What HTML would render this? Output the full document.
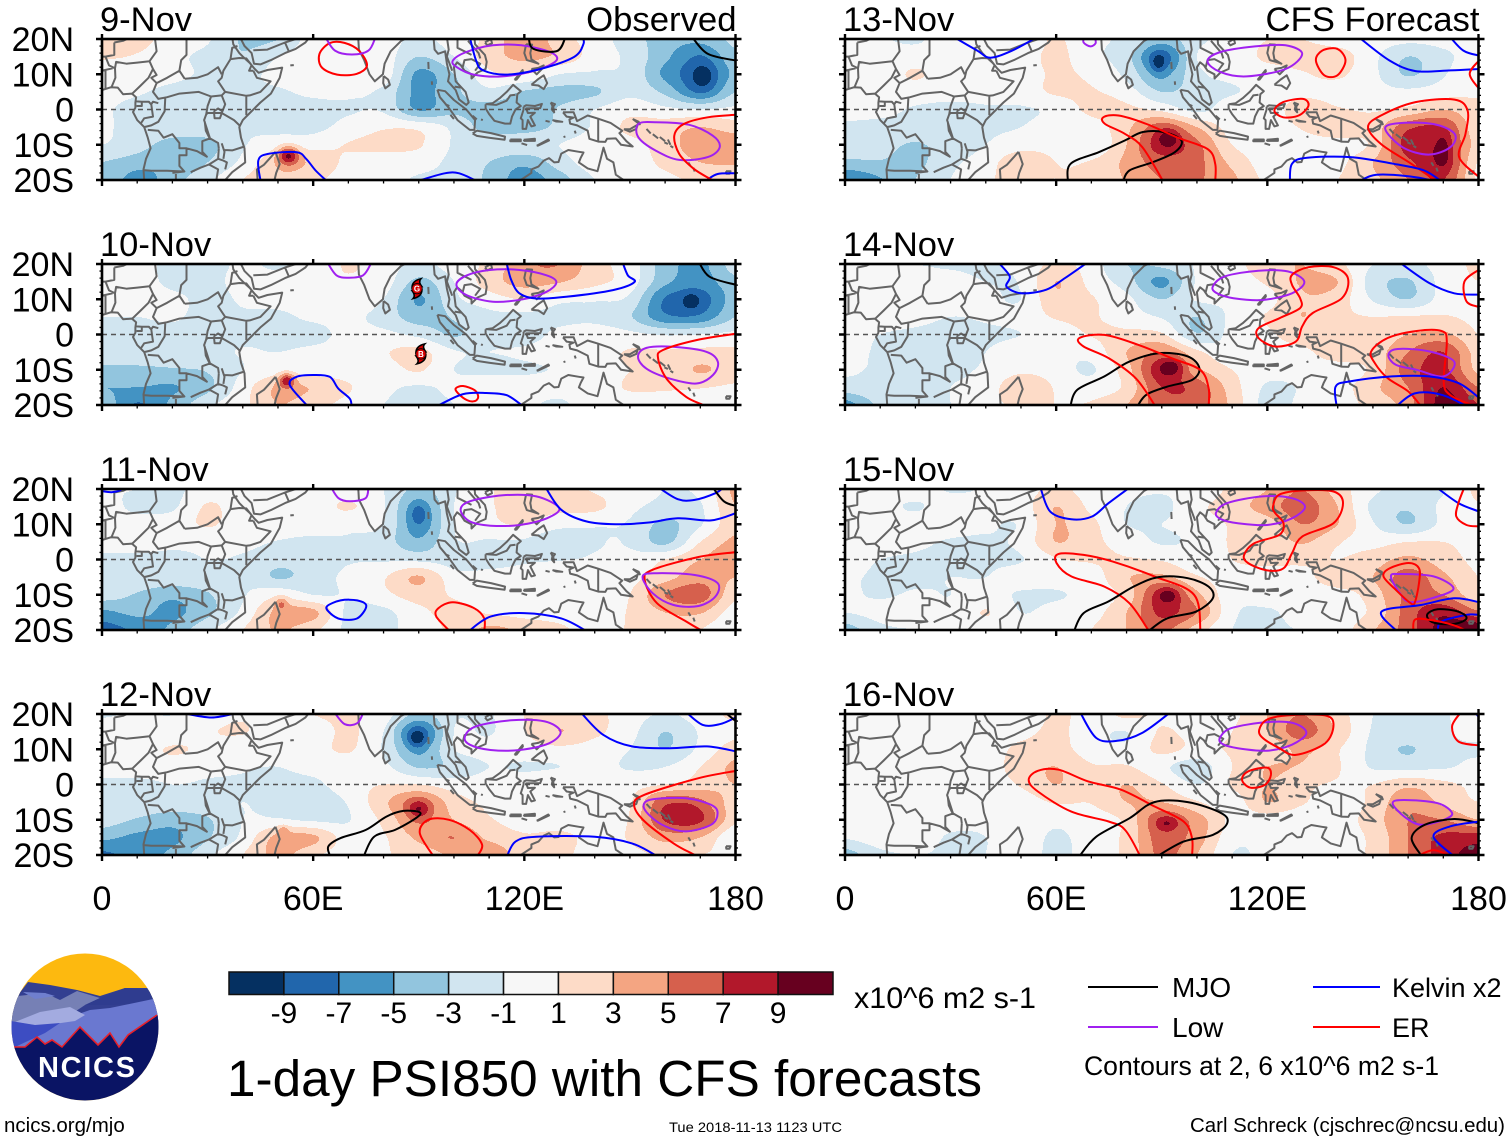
<!DOCTYPE html>
<html lang="en">
<head>
<meta charset="utf-8">
<title>1-day PSI850 with CFS forecasts</title>
<style>
html,body{margin:0;padding:0;background:#fff;width:1510px;height:1142px;overflow:hidden}
svg{display:block;font-family:"Liberation Sans",Arial,sans-serif}
text{fill:#000}
</style>
</head>
<body>
<svg id="chart" xmlns="http://www.w3.org/2000/svg" width="1510" height="1142" viewBox="0 0 1510 1142">
  <g id="panels"></g>
  <g id="colorbar"></g>

  <text x="854" y="1008" font-size="30" textLength="182" lengthAdjust="spacingAndGlyphs">x10^6 m2 s-1</text>
  <text x="227" y="1096" font-size="51" textLength="755" lengthAdjust="spacingAndGlyphs">1-day PSI850 with CFS forecasts</text>

  <g>
    <line x1="1088" y1="987" x2="1158" y2="987" stroke="#000" stroke-width="2"/>
    <text x="1172" y="997" font-size="28">MJO</text>
    <line x1="1313" y1="987" x2="1380" y2="987" stroke="#0000ff" stroke-width="2"/>
    <text x="1392" y="997" font-size="27">Kelvin x2</text>
    <line x1="1088" y1="1027" x2="1158" y2="1027" stroke="#a020f0" stroke-width="2"/>
    <text x="1172" y="1037" font-size="28">Low</text>
    <line x1="1313" y1="1027" x2="1380" y2="1027" stroke="#ff0000" stroke-width="2"/>
    <text x="1392" y="1037" font-size="27">ER</text>
    <text x="1084" y="1075" font-size="27" textLength="355" lengthAdjust="spacingAndGlyphs">Contours at 2, 6 x10^6 m2 s-1</text>
  </g>

  <text x="4" y="1132" font-size="20.5">ncics.org/mjo</text>
  <text x="669" y="1132" font-size="14" textLength="173" lengthAdjust="spacingAndGlyphs">Tue 2018-11-13 1123 UTC</text>
  <text x="1190" y="1132" font-size="20.5" textLength="315" lengthAdjust="spacingAndGlyphs">Carl Schreck (cjschrec@ncsu.edu)</text>

  <g>
    <defs><clipPath id="logo-clip"><circle cx="85" cy="1027" r="73.5"/></clipPath></defs>
    <g clip-path="url(#logo-clip)">
      <rect x="10" y="950" width="150" height="160" fill="#fdb90f"/>
      <polygon points="28,982 50,985 77,990 100,996 125,988 148,988 165,1010 165,1030 5,1030 5,1012" fill="#333f91"/>
      <polygon points="18,996 45,993 60,1000 77,991 100,998 85,1005 70,1015 5,1032 5,1005" fill="#7680b5"/>
      <polygon points="23,992 45,993 55,996 35,999" fill="#6f7fce"/>
      <polygon points="85,1005 100,998 125,988 150,990 160,1003 110,1005" fill="#2f3c8f"/>
      <polygon points="5,1025 70,1017 90,1010 110,1008 158,998 165,1010 165,1060 5,1060" fill="#6a78d0"/>
      <polygon points="15,1022 40,1012 70,1007 85,1015 75,1021 40,1026" fill="#a3abe0"/>
      <polygon points="5,1020 35,1025 60,1023 45,1033 15,1047 5,1047" fill="#3d4dc2"/>
      <polygon points="14,1047 25,1047 37,1037 45,1044 52,1040 62,1047 80,1027 98,1045 110,1033 119,1047 128,1035 157,1015 165,1010 165,1110 5,1110 5,1047" fill="#0a1464"/>
      <polyline points="14,1047 25,1047 37,1037 45,1044 52,1040 62,1047 80,1027 98,1045 110,1033 119,1047 128,1035 157,1015" fill="none" stroke="#e8202a" stroke-width="1.6"/>
    </g>
    <text x="38" y="1077" font-size="29" font-weight="bold" style="fill:#fff" textLength="97" lengthAdjust="spacing">NCICS</text>
  </g>
</svg>

<script>
/* ---------- categories and scale ---------- */
const panelTitles = ['9-Nov','10-Nov','11-Nov','12-Nov','13-Nov','14-Nov','15-Nov','16-Nov'];
const latTicks = [[20,'20N'],[10,'10N'],[0,'0'],[-10,'10S'],[-20,'20S']];
const lonTicks = [[0,'0'],[60,'60E'],[120,'120E'],[180,'180']];
const colorBands = ['#053061','#2166ac','#4393c3','#92c5de','#d1e5f0','#f7f7f7','#fddbc7','#f4a582','#d6604d','#b2182b','#67001f'];
const bandEdges = [-9,-7,-5,-3,-1,1,3,5,7,9];

/* ---------- PSI850 anomaly (x10^6) read at 10deg lon / 5deg lat: rows 20N..20S, columns 0..180E ---------- */
const psi9Nov = [
[2,1.8,0,-.8,-3.2,-3,0,.5,0,-1.5,0,1.5,4.5,2,0,-2,-4,-4.5,-2.5],
[1.2,.8,-.5,-1.5,-2.8,-1,0,0,0,-3,-1,2,3.5,2.5,0,-1.5,-4.5,-7,-3.5],
[0,0,-.5,-1.3,-1.5,-.5,0,0,.2,-5.5,-3,.5,1,-1,-1.3,-1.5,-5.5,-8,-4.5],
[-.5,-.8,-1.5,-1.8,-1.5,-1.2,-.7,-.7,-1.5,-5.5,-3.5,-1.5,-3.2,-3.6,-3.3,-1.5,-3.5,-7,-3],
[-.8,-1.5,-1.8,-1.8,-1.5,-1.5,-1.5,-1.2,-1.3,-5.2,-3.5,-3.8,-4,-2.8,-1,.3,-.5,-1,-.5],
[-.8,-1.5,-1.8,-1.8,-1.2,-1.5,-1.5,-.3,.8,.5,-1.5,-3.8,-3.8,-2.5,-.7,1.5,2,3,2],
[-1,-2.2,-3.8,-3.6,-1.2,0,.2,1.1,1.5,1.2,-1.2,-1.5,-1.5,-1,0,.3,2,4.2,4.5],
[-3,-4,-4.5,-3,-.5,2.5,2.5,.5,0,-.3,-1.5,-3,-4.5,-2,0,0,1.5,3,3.2],
[-3,-6,-3.8,-1.5,1,2.5,1.5,0,-.5,-1.2,-1.5,-3.5,-6,-4,-1,0,.5,1.5,2]];
const psi10Nov = [
[.3,-.3,-1.5,-1.5,-.8,-1.2,-.5,1.2,0,-1.5,0,1.5,4.5,5,1.8,0,-4,-5.5,-2],
[0,0,-1.5,-1.5,-.5,-.5,.5,.8,0,-3.5,-1,2,3.8,3.2,1.5,0,-4.5,-6,-3.5],
[0,0,-.5,-1.5,-.8,-.5,0,.5,-1,-5.2,-1.5,0,1,-.5,-.8,-1.5,-7.2,-8,-4],
[-1,-1,-.8,-1.5,-1.2,-1.3,-.7,-.5,-1.8,-4,-2.8,-1.5,-1.5,-1.5,-1.5,-2.8,-6.5,-6.5,-3],
[-2,-1.5,-1.5,-1.5,-1.3,-1.3,-1.5,-.5,-.5,-1.5,-3.2,-1.5,-1.8,-.5,0,-.5,-1.2,-1,-.5],
[-1.8,-1.5,-1.5,-1.5,-.9,-1,-.6,-.2,.8,1.6,-.8,-1,-.7,0,0,1.2,1.2,1.5,1.5],
[-3.5,-3.5,-3.2,-2.8,-1,0,0,0,0,1.2,-1,-1.5,-1.3,-.8,0,1,1.5,3.2,2],
[-5,-5,-5.2,-3.5,0,3.2,2.8,1.2,-.5,-1.2,-.5,.5,0,0,0,1.2,1.2,1.1,.7],
[-3.5,-7.2,-4.5,-1.5,.5,3,1.8,.3,-1,-1.5,-1,.8,-.3,-1.5,.8,0,0,0,0]];
const psi11Nov = [
[-1,-1,-1.5,0,0,-.5,0,0,-1,-3.5,-1.2,.8,1.8,1.8,.8,0,-1,-.5,3.5],
[0,-1.5,-1.3,1.2,0,0,0,1.2,-.8,-5.5,-1,.8,1.6,1.5,1.5,-.5,-1.5,-1.2,3],
[0,0,0,1.2,0,0,0,-.5,-1,-6,-1,.5,1.1,-.3,-.8,-1.2,-3.5,-1.2,2.5],
[0,0,-.5,-.5,-.5,-1.1,-1.5,-1.2,-2,-4.5,-1.2,-1.2,-1.3,-2.8,-1.2,-1.2,-3.5,1,3.5],
[-1.5,-1.5,-1.5,-1,-1.2,-2.2,-2,-1.2,-1.2,-1.5,-1.8,-1.5,-1.2,-1.1,-.8,-.5,1,3,4.5],
[-1.5,-1.5,-1.5,-1.5,-1.2,-3.2,-2,-.5,.8,3.2,-.2,-.5,-.3,0,-.5,.3,2.2,4.2,3],
[-2,-3.2,-4.5,-3.2,-1.2,.5,-1,-.8,.5,1.8,.8,0,0,0,0,1,5,6,1.5],
[-5.5,-4.5,-5.5,-3.5,-.5,3.5,3.5,-1.5,-1.5,.5,1.5,.8,.3,0,-.3,1.2,3,3.2,0],
[-8,-6.5,-4.5,-1.5,1,3.2,1.5,-1.5,-1.5,0,1.5,3.5,2.5,1.5,0,1.2,2,1,-1]];
const psi12Nov = [
[-1.2,-.8,-1,0,.8,-.5,1,1.2,0,-3.5,-1.2,-1.2,1,1.6,1.5,0,-1.2,0,1.5],
[0,-.5,-.5,.8,1.1,0,0,1.3,-1,-7.5,-1,-1.2,.9,3,1.5,-.3,-3,-.8,.5],
[0,0,1.2,.5,0,0,.3,1.2,-1.2,-5.5,-1,-.3,0,.5,0,-1,-3,-.5,2],
[0,0,0,-.5,-.8,-1,-.3,0,-.5,-3.2,-2.5,-1,-1.2,-1,-.3,-1.2,-1,1,3.5],
[-1.5,-1.5,-1,-1.2,-1.2,-1.5,-1.5,.2,1,1,0,0,0,.8,.3,.3,1,2,3],
[-1.5,-1.5,-1.5,-1.5,-1,-1.5,-2.2,-.8,2.5,5.5,2,.6,.2,0,0,.8,6.5,5.5,2],
[-2,-3.2,-4.2,-3.2,-1,-.8,-1.3,-1.1,1.5,5,3,1.2,.3,0,0,1.2,7.2,7.2,1.5],
[-4.5,-5.5,-5.5,-3.2,-.5,3.6,3.4,0,.8,3.5,5,2.5,1.2,1.5,.5,1.2,3.8,3,-.8],
[-7.5,-6,-4.5,-1.5,1,3.6,1.5,0,.8,1.8,3.5,5,1.5,1.6,0,.5,1.2,1,.5]];
const psi13Nov = [
[-.3,-.8,-1.3,0,-.5,-.5,1.2,-.5,-1.5,-4,-1.5,-.3,1,1,0,0,-.5,-.3,0],
[0,0,0,0,0,0,1.5,-.5,-2.2,-8,-1,-.5,1.5,2,2,-.5,-3,-1.5,0],
[0,0,1.2,0,0,0,1.3,.5,-1.5,-5.5,-1.5,-.5,-.2,.8,1.3,-.5,-3.2,-1.2,1],
[0,0,0,-.3,-.3,0,1.3,1.2,0,-3,-2,-1.2,-.2,.5,.3,-.2,-.5,.2,.8],
[-.5,-.5,-1.2,-1.5,-1.2,-1.2,-.5,1.5,1.5,.5,-1.5,.3,0,2,1.2,.8,1.5,3,1.5],
[-1.2,-1.5,-1.5,-1.5,-1.2,-1,0,0,2.5,6,3,.2,0,1.2,2.8,2,6.5,7,1.5],
[-1.5,-2.2,-3.2,-2,-1,0,.3,-.8,3,8,5.5,1,0,0,0,1.5,8,8,2],
[-3.5,-3.2,-3.5,-1.5,0,2.5,1,1.2,3.5,6,5.5,2.5,0,0,.5,3,6.5,8.5,.8],
[-7,-5.2,-3,-1,.8,1.2,1,1.5,3.2,5,5.2,3.5,.5,.5,1,2.5,5,7,.5]];
const psi14Nov = [
[-.3,-1,-1,-1.2,-1.2,-.5,1.5,0,-3,-2.5,-.8,.3,2.2,3,1.5,-1,-1.5,-.2,1.5],
[0,0,-.3,-.5,-1,-.8,3,.3,-2,-5.5,-.8,0,1.3,3.2,3,-2,-3.2,-.3,1],
[0,.8,0,-.5,-.5,-1,2.5,1.2,-.5,-3,-.8,-.5,.3,2.8,2,-1.2,-3,-.2,.3],
[0,0,-.5,-1,-.8,-.3,1.2,1.2,0,-1.2,-3,-.5,1.2,3,1.5,1,1.2,1.2,.5],
[-.2,-1,-1.3,-1.5,-1.3,-1,0,1.1,1.5,1.3,-2.8,-.3,.6,2.2,2,1.5,3,3.5,1],
[-.5,-1.2,-1.5,-1.5,-1,0,-.5,-.2,3,5,1.5,-.5,0,.5,2.2,2,5,7,2],
[-.8,-1.2,-1.5,-1.2,-.8,.5,0,-1.2,2.2,8,3.5,1,-.2,0,0,1.5,6,7.5,2.5],
[-1.8,-1.3,-1.2,-1,-.3,2.8,.8,0,1.5,7,6.2,2,-1.3,-.8,0,2.5,5,9,5],
[-6,-2.5,-1.5,-1,.5,1.2,1,1.2,3,6,6,2.5,-1.8,-.5,0,1.8,4,10,7]];
const psi15Nov = [
[0,-.5,0,-1.2,-.8,0,1.5,0,-.5,-.8,-.5,1.5,3,5,2,-.5,-2,-1.2,1.5],
[0,-.3,-1.2,0,-.5,0,3,.5,-1,-1.5,.5,2,4,6,3,-1.5,-2.8,-.5,.8],
[0,0,0,0,-.7,-.8,3,1.5,-1,-1,0,1.2,2,5,3,-.8,-3,-.5,.3],
[0,0,-.5,-1.2,-1.2,-.5,3,1.5,.2,-1.2,-.5,1.2,1.5,3.2,1.2,.3,1,1,.3],
[-.3,-1,-1.3,-1.5,-1.2,-1.1,.8,1.2,1.2,.8,-.3,1,1.5,1.5,1,2,3.5,2,.5],
[-.8,-1.2,-1.3,-1,-1,-.2,0,0,2.8,3.5,1.2,.3,0,.3,2.5,3,6,3.5,1],
[-.7,-1.2,-.8,-1,-.3,-1.2,-1.2,-.2,1.8,7.5,3.5,-.2,0,0,0,2,5.5,5,1.5],
[-1,-.3,0,-.8,1.1,-1,-.3,.2,3,7.5,5,-.5,-1.3,0,0,1.5,6,8.5,5.5],
[-4,-1.5,-1,-.8,0,0,-.5,1,3,5.5,2,-1,-1.5,-.8,0,2.8,6,10,11]];
const psi16Nov = [
[0,0,0,0,0,-1,1.5,0,1.5,.5,-.5,.5,3,5,2,-1,-3,-1.2,-.5],
[0,0,0,0,0,.3,1.5,-.3,-1,1.2,.3,1,3,6,2.5,-1.2,-1.5,-1.2,-.5],
[0,0,0,0,0,1.5,1.8,0,-.5,1.5,.5,1.2,1.5,3.5,1.2,-1.5,-3.2,-1.3,-1.2],
[0,0,0,0,0,2,3,1.2,1.2,-.5,-2,1,3,2.8,1.2,-1.2,-1.5,-1.2,-.5],
[0,0,0,0,0,1.2,3,1.5,3,1.2,-1,1.2,3,1.5,.8,1,2.5,1.5,.5],
[0,0,0,0,0,0,1.2,1.1,3,3,1.2,0,3,1.2,0,1.5,4.5,2.5,1],
[0,-.8,0,-.3,-.5,0,-.5,0,1.5,6.5,4,.5,0,-.3,0,2,5,5,3],
[-.8,0,0,-1.2,-1,0,-1.3,0,1.5,6,4,-.3,-.5,0,0,1.5,5,7.5,8],
[-4,-1.5,-1,-1.2,-1,0,-1.5,0,1.5,5.5,3,-1,-.5,0,0,1.5,5,8,10]];
const psiFields = [psi9Nov,psi10Nov,psi11Nov,psi12Nov,psi13Nov,psi14Nov,psi15Nov,psi16Nov];

/* ---------- sharp local extrema too small for the grid: lon, lat, amplitude, lon radius, lat radius ---------- */
const extrema9Nov = [[53,-13,7.5,3,2.6],[171,9.5,-2.5,3.5,3.5]];
const extrema10Nov = [[52.5,-13,6.5,2.2,2],[167.5,9.5,-2.5,2.2,2.2]];
const extrema11Nov = [[51,-12.5,3,1.8,1.8],[90,13,-2.5,2.5,3]];
const extrema12Nov = [[51.5,-13,2.5,1.5,1.5],[90,-7,3.5,3,2.5],[89.5,13,-3.5,2.5,2.5],[167,-8,1,3,3]];
const extrema13Nov = [[92,-8,3,3,2.5],[89,13,-3,2,2.5],[170,-11.5,2.5,1.8,4]];
const extrema14Nov = [[93,-9,3.5,3.5,2.5]];
const extrema15Nov = [[92,-10,3,3,2.2]];
const extrema16Nov = [[91.5,-11,2.5,3,2]];
const fieldExtrema = [extrema9Nov,extrema10Nov,extrema11Nov,extrema12Nov,extrema13Nov,extrema14Nov,extrema15Nov,extrema16Nov];

/* ---------- wave-filtered contours: [series, closed?, [lon,lat]...] ---------- */
const waves9Nov = [
['er',1,[[64.8,18.9],[68.9,18.9],[73,16.7],[75.3,12.5],[72.3,10.1],[66.8,9.9],[62.4,12],[61.8,15.8]]],
['low',0,[[63.5,20.5],[66.2,16.7],[71,15.6],[75.7,16.7],[77.7,20.5]]],
['low',1,[[99.7,13.9],[103.5,16.3],[111,18.2],[119.2,18.2],[127.3,16.3],[129.1,13.9],[123.2,11.1],[113.7,9.4],[105.6,9.9],[100.8,12]]],
['kelvin',0,[[104.5,20.5],[106.3,13.9],[108.3,11.1],[115,9.9],[124.6,11.5],[134.1,14.9],[136.8,18.6],[136.5,20.5]]],
['mjo',0,[[121.2,20.5],[122.6,17.2],[129.3,16.6],[131.7,20.5]]],
['mjo',0,[[167.7,20.5],[172.1,15.8],[180,13.9],[182,13.7]]],
['kelvin',0,[[45.1,-20.5],[44.4,-14.5],[47.2,-12.6],[55.3,-12.1],[58,-14],[60.7,-17.3],[64.1,-20.5]]],
['kelvin',0,[[90.6,-20],[97.4,-18.1],[101.5,-18.1],[106.9,-20.5]]],
['kelvin',0,[[171.9,-20],[174.9,-18.3],[180,-18.1],[182,-18.1]]],
['low',1,[[152.4,-4.1],[157.2,-3.6],[166.7,-4.3],[173.5,-7.4],[175.5,-10.7],[172.1,-13.5],[164,-14.3],[157.2,-11.6],[152.4,-7.9]]],
['er',0,[[182,-1.3],[180,-1.5],[172.1,-2.2],[165.3,-4.1],[162.6,-7.4],[164,-12.6],[168.1,-16.8],[172.8,-19.7],[175,-21]]]];
const waves10Nov = [
['low',0,[[64,20.5],[66.6,16.8],[69.9,16.1],[74.2,16.8],[76.6,20.5]]],
['kelvin',0,[[58.6,-20.5],[53.4,-14.4],[55.3,-12],[60,-11.5],[64.7,-12],[67.1,-15.3],[70.4,-18.2],[70.9,-20.5]]],
['low',1,[[100.7,14.2],[103.7,16.8],[110.2,18.3],[118.7,18.3],[126.3,16.8],[129.1,14.8],[126.3,12.1],[119.6,10],[111.1,9.3],[103.5,11.2]]],
['kelvin',0,[[114.9,20.5],[116.3,15.4],[118.7,11.6],[123.4,10.2],[131.9,10.7],[145.2,12.6],[151.3,14.9],[149.4,16.8],[147.9,20.5]]],
['mjo',0,[[169.6,20.5],[172.6,16.4],[179.7,14.2],[182,14]]],
['low',1,[[152.3,-6.3],[154.7,-3.8],[162.2,-3.5],[171.7,-4.9],[175,-7.8],[173.6,-11.5],[168.9,-13.9],[161.3,-12.5],[154.7,-9.7]]],
['er',0,[[182,.3],[180,.2],[168.9,-1.6],[159.4,-4.4],[158,-6.8],[160.4,-12.5],[166,-17.7],[170.8,-20],[173,-21.5]]],
['er',1,[[100.5,-15.3],[102.6,-14.6],[105.9,-15.8],[106.9,-17.7],[105.9,-18.9],[103.7,-18.6],[101.2,-16.7]]],
['kelvin',0,[[95.8,-20],[102.6,-16.9],[109.2,-16.6],[114.9,-17.2],[119.2,-20]]]];
const waves11Nov = [
['low',0,[[65.1,20.5],[67.2,17.4],[70.4,16.5],[74.9,17.4],[75.7,20.5]]],
['kelvin',0,[[0,19.4],[2.7,19.1],[5.1,19.6],[6,20.5]]],
['low',1,[[101.9,14.1],[104.5,16.5],[113.9,18.2],[123.4,17.9],[129.9,14.6],[126.4,11.7],[118.7,9.8],[110.4,9.6],[104.5,10.8]]],
['kelvin',0,[[126,20.5],[130.5,14.1],[137.6,10.8],[145.9,10],[155.4,10.5],[163.6,11.7],[173.1,11.1],[180.2,13.2],[182,14]]],
['kelvin',0,[[158,20.5],[163.6,17.1],[168.4,16.9],[174.3,18.8],[176.7,20.5]]],
['mjo',0,[[173.5,20.5],[176.7,16.5],[180.2,15.2],[182,15]]],
['er',0,[[182,2.4],[180.2,2.1],[169.5,.7],[156.5,-2.9],[154.2,-5.8],[157.7,-12.4],[166,-17.6],[170.1,-20],[172,-21]]],
['low',1,[[153.6,-4.8],[157.7,-3.9],[168.4,-4.4],[174.9,-6.7],[174.3,-10.5],[169.5,-13.2],[162.4,-12.9],[156.5,-9.6]]],
['kelvin',1,[[63.9,-13.3],[67.8,-11.6],[72.5,-11.6],[75.1,-13.2],[72.5,-16.7],[67.8,-16.9],[64.8,-15.2]]],
['er',0,[[99,-20.5],[95,-16.2],[95.6,-13.8],[99.7,-12.1],[105.7,-13.8],[108.6,-16.7],[108.6,-20.5]]],
['kelvin',0,[[104,-20.5],[110.4,-16.2],[119.9,-15.2],[130.5,-16.7],[138,-20.5]]]];
const waves12Nov = [
['kelvin',0,[[22,20.5],[31.1,19],[39,20.5]]],
['low',0,[[66,20.5],[69,17.1],[72.5,17.4],[74.3,20.5]]],
['low',1,[[103.1,13.6],[106.3,16.5],[116.3,18.2],[125.8,17.9],[130.3,15],[127,11.7],[118.7,9.8],[110.4,9.8],[104.5,11.3]]],
['kelvin',0,[[136,20.5],[142.4,14.1],[150.6,10.8],[161.3,10.3],[171.9,10.8],[180.2,9.4],[182,9.2]]],
['kelvin',0,[[166,20.5],[170.7,16.9],[175.5,17.1],[179.6,18.8],[182,20.5]]],
['mjo',0,[[177,20.5],[180.2,17.9],[182,17]]],
['er',0,[[182,4.2],[180.2,3.9],[169.5,1.8],[154.2,-2.9],[151.2,-5.8],[154.2,-10.5],[162.4,-16.7],[167.8,-19.7],[170,-21]]],
['low',1,[[153.9,-5.8],[156.5,-4.2],[166,-3.9],[173.1,-5.8],[174.9,-8.1],[173.1,-11.4],[166,-13.3],[160.1,-11.9],[155.4,-8.6]]],
['mjo',0,[[64.9,-20.5],[64.3,-17.6],[67.8,-15.2],[74.9,-12.9],[80.8,-9.1],[85.6,-7.5],[90.3,-7.9],[89.1,-9.6],[83.2,-12.9],[77.3,-14.8],[74.3,-20.5]]],
['er',0,[[94.3,-20.5],[90.3,-13.8],[92.7,-10],[98.6,-10],[104.5,-12.9],[108,-17.1],[106.5,-20.5]]],
['kelvin',0,[[115,-20.5],[117.5,-16.2],[123.4,-14.8],[140,-14.8],[150.6,-16.7],[158,-20.5]]]];
const waves13Nov = [
['kelvin',0,[[31,20.5],[37.6,16.7],[41.3,14.7],[47.5,16.7],[54.5,20.5]]],
['low',0,[[67.9,20.5],[67.8,19],[69.7,17.9],[71.2,18.8],[71,20.5]]],
['low',1,[[103,13.7],[106.7,16.3],[116.5,17.9],[125.2,18.2],[129.9,15.8],[125.2,11.5],[114.1,9.4],[106.7,10.6]]],
['er',1,[[133.8,13.9],[135.6,16.7],[139.9,17.2],[142.2,13.9],[139.9,9.7],[136.2,9.7]]],
['kelvin',0,[[146,20.5],[154.7,13.9],[162.1,10.9],[172,11.1],[180.2,11.5],[182,11.6]]],
['kelvin',0,[[172,20.5],[175.7,16.7],[180.2,15.3],[182,15.2]]],
['er',0,[[182,15],[180.2,13.9],[177.5,10.1],[180.2,5.9],[182,5]]],
['er',1,[[122,-.3],[124.5,2.1],[130.1,3],[131.7,1.1],[128.9,-1.7],[124.5,-2.2]]],
['er',0,[[169,-21],[160.9,-15.4],[152.3,-9.8],[148.6,-5],[152.3,-1.7],[162.1,2.1],[173.2,2.8],[176.9,-.3],[176.3,-6.9],[174.5,-13.5],[180.2,-19.2],[182,-20.5]]],
['low',1,[[153.5,-5.5],[157.2,-3.9],[167.1,-4.1],[173.2,-6.9],[172,-10.7],[165.8,-12.8],[158.4,-10.7]]],
['kelvin',0,[[126.4,-20.5],[127,-15.4],[131.3,-13.7],[143.6,-13.5],[155.9,-15.4],[164.6,-17.3],[170,-20.8]]],
['kelvin',0,[[146,-20.5],[151,-18.5],[162.1,-19.2],[170,-21]]],
['mjo',0,[[63.3,-20.5],[64.1,-15.4],[72.1,-12.1],[79.5,-8.8],[84.5,-6.4],[90.6,-6.4],[95.6,-8.8],[93.7,-12.1],[87.6,-14.9],[80.8,-17.3],[79,-20.5]]],
['er',0,[[90.5,-20.5],[84.5,-10.7],[79.5,-6.9],[73.9,-4.1],[73.4,-2.2],[77.7,-1.7],[85.7,-4.1],[94.3,-7.9],[103,-11.2],[105.2,-15.4],[105.2,-20.5]]]];
const waves14Nov = [
['kelvin',0,[[43.5,20.5],[46.8,16.5],[45.9,13.6],[50.1,11.7],[57.2,12.7],[62.5,16],[69,20.5]]],
['low',1,[[104.5,13.6],[108,16.5],[117.5,18.1],[125.8,17.9],[130.5,15],[127,11.7],[118.7,9.8],[110.4,10.3],[105.7,11.7]]],
['er',1,[[127,16.9],[131.7,19.1],[138.8,19.1],[142.9,16],[141.2,10.3],[132.9,6.1],[129.9,2.3],[128.1,-2],[122.2,-3.4],[117.5,-1],[117.5,1.8],[123.4,4.6],[129.3,7.5],[129.3,10.3],[127,14.1]]],
['kelvin',0,[[157.5,20.5],[166,14.6],[173.1,11.7],[180.2,11.3],[182,11.3]]],
['er',0,[[182,19],[180.2,18.4],[176,15],[176.6,9.4],[180.2,7.8],[182,7.5]]],
['er',0,[[164,-20.8],[160.1,-16.2],[154.2,-12.4],[150.6,-8.2],[149.5,-4.8],[154.2,-1],[162.4,1],[169.5,1],[171,-2],[170.1,-13.4],[172,-17.2],[178,-20],[180,-21]]],
['low',1,[[154.4,-5.8],[157.1,-4.1],[166,-4.8],[173.1,-7.7],[170.1,-11.9],[162.4,-10],[156.5,-8.6]]],
['kelvin',0,[[139.7,-20.5],[139.4,-14.8],[143.5,-13.3],[155.4,-11.9],[166,-11.9],[174.3,-13.8],[180.2,-18],[182,-19.5]]],
['kelvin',0,[[156.5,-20.5],[161.9,-16.7],[169.5,-17.1],[177,-20.5]]],
['mjo',0,[[64,-20.5],[66,-15.7],[73.7,-11.9],[80.8,-7.7],[89.1,-5.3],[97.4,-6.2],[100.7,-9.6],[98.6,-12.9],[91.5,-14.8],[85.6,-17.1],[83,-20.5]]],
['er',0,[[88.3,-20.5],[82.6,-12.4],[74.9,-6.7],[67.8,-3.4],[66.6,-1],[73.7,-.1],[83.2,-2.9],[92.7,-6.7],[100.9,-10],[103.3,-15.2],[103.3,-20.5]]]];
const waves15Nov = [
['kelvin',0,[[55.5,20.5],[58.3,13.6],[64.3,11.4],[70.2,12.2],[74.9,16],[81,20.5]]],
['low',1,[[105.4,13.2],[108.6,16],[118.7,17.9],[127,17.4],[130.7,14.9],[127,11.7],[119.9,9.8],[111.6,10.3],[106.9,11.4]]],
['er',1,[[121.6,15],[123.4,18.4],[130.5,19.6],[138.8,19.3],[141.5,16],[138.8,10.3],[129.9,6.5],[127,1.8],[124.6,-2.5],[119.9,-3.1],[114.5,-1],[113.4,1.3],[116.3,4.6],[123.4,7],[124.6,10.3],[122.2,13.2]]],
['kelvin',0,[[168,20.5],[174.3,16],[180.2,13.6],[182,12.8]]],
['er',0,[[176,20.5],[174.3,16],[173.7,12.2],[176.6,9.8],[180.2,9.4],[182,9.4]]],
['er',0,[[86.5,-20.5],[80.8,-12.4],[73.7,-7.7],[64.3,-4.8],[60.1,-1],[60.7,1.6],[67.8,1.3],[76.1,-.6],[87.9,-4.8],[99.2,-10],[101,-20.5]]],
['mjo',0,[[65,-20.5],[67.8,-15.2],[74.9,-11.9],[82,-7.7],[89.1,-5],[97.4,-5.3],[103.3,-7.7],[104.5,-11],[99.7,-14.8],[91.5,-16.7],[86,-20.5]]],
['low',1,[[155.1,-4.8],[157.7,-4.1],[167.2,-4.8],[172.9,-8.1],[168.4,-10.5],[160.7,-12.1],[157.7,-9.6]]],
['er',1,[[160.7,-12.4],[156.5,-8.6],[153,-4.8],[154.8,-2.5],[160.1,-1],[163.1,-2.5],[163.1,-6.7],[161.9,-12.2]]],
['kelvin',0,[[157,-20.5],[152.4,-14.8],[163.6,-12.9],[173.1,-11],[180.2,-12.1],[182,-12.5]]],
['kelvin',0,[[168.4,-20.5],[169.5,-17.6],[176.6,-15.7],[180.2,-15.7],[182,-15.7]]],
['mjo',1,[[165.4,-15.7],[168.4,-14.1],[174.3,-14.8],[176.6,-16.7],[173.1,-18.3],[167.2,-17.9]]],
['er',0,[[161.5,-20.5],[161.9,-17.1],[166,-17.1],[173.1,-18.7],[177,-20.5]]]];
const waves16Nov = [
['kelvin',0,[[66.8,20.5],[71.4,13.2],[77.3,12.4],[84.4,14.6],[92.5,20.5]]],
['low',1,[[106.5,13.2],[109.8,16],[119.9,17.7],[127.5,17.4],[131.1,14.6],[127,11.3],[119.9,9.6],[111.6,10.3],[107.4,11.4]]],
['er',1,[[117.7,15.5],[119.9,18.4],[125.8,19.6],[136.4,19.6],[138.8,16.9],[136.4,11.7],[128.1,8.4],[123.4,10.3],[118.7,13.2]]],
['er',1,[[112.8,1.3],[114.5,3.7],[119.9,4.8],[121,2.7],[119.3,-.1],[115.2,-.9]]],
['er',0,[[84,-20.5],[79.6,-12.9],[74.9,-10.5],[64.3,-7.7],[54.8,-2],[52.2,1.3],[54.8,3.9],[60.7,4.2],[69,.9],[78.5,-1.5],[87.9,-6.2],[96.2,-10.5],[98.6,-15.2],[98.6,-20.5]]],
['mjo',0,[[66.5,-20.5],[71.4,-14.8],[80.8,-9.6],[87.9,-5],[97.4,-5],[106.9,-8.1],[108.6,-11],[104.5,-14.3],[96.2,-16.2],[88.5,-20.5]]],
['low',1,[[155.6,-5.3],[158.9,-4.4],[168.4,-5.3],[172.5,-8.1],[170.1,-10],[163.6,-11.4],[158.9,-9.1]]],
['mjo',0,[[164,-20.5],[161,-15.2],[164.8,-11.4],[173.1,-9.8],[180.2,-11],[182,-11.4]]],
['kelvin',0,[[173.2,-20.5],[167.2,-14.8],[171.9,-11.9],[180.2,-10.5],[182,-10.3]]],
['er',0,[[175,20.5],[172.5,16.5],[174.3,12.2],[180.2,11.1],[182,11]]],
['kelvin',0,[[179,20.5],[180.2,19.1],[182,18]]],
['er',0,[[162.4,-20.5],[167.2,-18.6],[172.5,-20.5]]]];
const waveContours = [waves9Nov,waves10Nov,waves11Nov,waves12Nov,waves13Nov,waves14Nov,waves15Nov,waves16Nov];
const waveColors = {mjo:'#000000',kelvin:'#0000ff',low:'#a020f0',er:'#ff0000'};

/* ---------- tropical cyclones in the 10-Nov panel: panel index, lon, lat, name letter ---------- */
const stormMarkers = [[1,89.5,13,'G'],[1,90.6,-5.5,'B']];

/* ---------- coast and border outlines in lon,lat ---------- */
const coastlines = [
[[37,20.5],[37.3,18.5],[39,16],[40,15],[42,13.2],[43.3,11.6],[44.5,10.4],[47,11.2],[51.2,11.9],[50.5,9],[48,4.5],[45,2],[42,-1],[40,-3],[39,-5],[39.5,-8],[40.5,-11],[40.7,-15],[37,-17.8],[35,-20],[35.3,-21]],
[[39.2,20.5],[40.5,18],[42.5,16],[43.2,13],[45,12.8],[48,14],[52,16],[55,17.2],[57.8,19],[59,20.5]],
[[0,5.5],[2.5,6.3],[4.5,6.2],[6,4.3],[8.5,4.5],[9.7,3.5],[9.5,2],[9.5,.5],[8.8,-.7],[10,-3],[12,-5],[13,-8],[13.8,-11],[12.5,-14],[11.8,-17],[12,-20],[13.5,-21]],
[[72.8,20.5],[73,17],[74.5,14],[76,10],[77.5,8],[79.8,10],[80.3,13],[82,16.5],[85,19.5],[87,20.5]],
[[80,9.5],[81.3,8.5],[81.8,7],[80.5,6],[79.9,7.5],[80,9.5]],
[[94.2,20.5],[94.5,17],[95.5,15.8],[97.5,16.5],[98,13],[98.7,10],[98.3,8],[100.5,5.5],[101.5,2.8],[103.5,1.3],[104.2,2],[103.3,5],[100.5,8],[100,12],[100.9,13.4],[102,12.5],[103,11],[105,10],[105,8.8],[106.7,10.5],[109,11.5],[109.3,13.5],[108.8,15.5],[106,18.5],[105.8,20.5]],
[[108.8,19],[110.5,20],[110.8,18.8],[109.5,18.2],[108.8,19]],
[[95.3,5.6],[97.5,5.2],[100,2.7],[103.5,0],[106,-3],[105.8,-5.8],[104.5,-5.8],[101,-3],[98.5,.5],[96,3.5],[95.3,5.6]],
[[105.3,-6.8],[106.5,-6],[110.5,-6.7],[114.5,-7.7],[114.4,-8.6],[110,-8],[106.5,-7.5],[105.3,-6.8]],
[[116,-8.5],[119,-8.5],[119,-9],[116,-9],[116,-8.5]],
[[119.8,-8.6],[123,-8.3],[123,-8.9],[120,-8.9],[119.8,-8.6]],
[[123.5,-10.3],[126.8,-8.5],[127,-8.8],[124,-10.2],[123.5,-10.3]],
[[119.2,-9.6],[120.8,-10.1]],
[[109,1.5],[111,1.8],[113,3.2],[115,5],[116.8,7],[119,5.2],[118,4.3],[117.8,2],[119,1],[117.5,0],[116.5,-2],[116,-4],[114.5,-4],[111.5,-3.2],[110,-1.3],[109,.3],[109,1.5]],
[[119.8,.8],[120.5,1.2],[123,1],[125,1.6],[124.5,.4],[120.5,.3],[121,-1],[123,-.9],[121.7,-2],[123,-4.5],[122,-4.8],[121,-3],[120.5,-5.5],[119.5,-5.5],[119.5,-3],[119,-2.5],[119.8,0],[119.8,.8]],
[[120.5,18.5],[122.2,18.4],[121.7,16],[122,14.2],[124,13],[122.5,13.5],[120.7,14],[120,16],[120.5,18.5]],
[[122,7],[123.8,8.5],[125.5,9.7],[126.5,7.5],[125.5,5.8],[124,6.8],[122,7]],
[[122,11.5],[123.5,10],[125,11.5],[125.5,12.5],[124,11.8],[122,11.5]],
[[117.2,8.4],[119.5,11.2],[119.6,10.8],[117.8,8.5],[117.2,8.4]],
[[127.5,2],[128,1],[127.8,0],[128.5,-.8],[128.2,.8],[128.7,1.5],[127.5,2]],
[[131,-.8],[134,-.8],[135,-3.3],[138,-1.7],[141,-2.6],[144.5,-3.8],[147.8,-6],[147,-6.7],[149,-9],[150.8,-10.5],[147.5,-10],[146,-8.2],[143.5,-8.3],[143,-9.2],[141,-9.1],[138.5,-8.3],[138,-6],[135,-4.5],[133,-4],[132.8,-2.8],[134,-2.3],[132,-2],[131,-.8]],
[[128,-3],[130.8,-3.5],[129,-3.4],[128,-3]],
[[126,-3.2],[127.2,-3.5]],[[134.3,-6],[134.6,-6.8]],[[131.3,-7.5],[131.5,-8]],
[[148.3,-5.6],[150,-5.6],[152.2,-4.3],[151.8,-5.5],[150,-6.3],[148.3,-5.6]],
[[150.8,-2.7],[152.8,-4.2],[152.5,-3.5],[150.8,-2.7]],
[[154.7,-5.5],[155.9,-6.8]],[[156.5,-7],[158,-8.2]],[[158.5,-7.8],[160,-9]],[[159.8,-9.3],[160.8,-9.8]],[[160.8,-8.5],[161.5,-10]],[[161.5,-10.3],[162.3,-10.8]],
[[166.6,-15],[167.2,-16]],[[168,-16.5],[168.4,-17.6]],
[[177.3,-17.5],[178.6,-17.5],[178.3,-18.2],[177.4,-18.2],[177.3,-17.5]],
[[113.5,-22],[114,-21.8],[117,-20.5],[119,-20],[122,-18],[122,-17],[124,-16.2],[125.5,-14.5],[127,-13.8],[128.5,-15],[129.7,-14.9],[130.5,-12.5],[132.5,-11.5],[135.5,-12],[136.8,-12.2],[136,-13.8],[135.5,-15],[138,-16.7],[140.8,-17.5],[141.7,-14],[142.5,-10.8],[143.5,-14],[145.3,-15],[146,-18.5],[148.5,-20.2],[149,-21.5]],
[[49.3,-12],[50.5,-15.5],[49.5,-18],[48.8,-21],[44,-21],[44.2,-20],[44,-17],[46,-15.7],[48,-13.5],[49.3,-12]],
[[53.5,12.5],[54.5,12.6]],[[92.7,13.5],[92.8,11.5]],[[93.7,8],[93.8,7]],[[97.5,1.5],[98.7,1]],[[99,-1.5],[100,-2.7]],[[105.3,-1.8],[106.5,-2.8]],[[107.7,-2.8],[108.2,-3]],
[[31.8,-.5],[33,.3],[34.2,-.5],[33.5,-2.5],[32,-2.5],[31.8,-.5]],
[[29.2,-3.5],[29.5,-6],[30.5,-8],[31,-8.5]],[[34,-9.6],[34.8,-12],[34.5,-14]]];
const borders = [
[[24,20.5],[24,15.5],[22.5,14],[22,11],[23.5,8.7]],[[15,20.5],[15.5,16.5],[13.5,13.7]],[[3.5,19],[3.5,15.5],[1,15]],[[3.5,19],[6,19.5],[9,21]],
[[3.7,11.7],[4,13.5],[7,13],[10,13.3],[13.5,13.7]],[[3.7,11.7],[3.8,9],[2.7,6.3]],[[13.5,13.7],[14.5,11.5],[13.2,9],[11,6.8],[8.7,4.6]],
[[14.5,11.5],[15.5,9.8],[14,9],[15.5,7.5]],[[15.5,7.5],[18.5,9],[22,11]],[[15.5,7.5],[14.5,5],[16,3],[18.5,3.5],[22,4.5],[27.5,5],[31,3.7]],
[[23.5,8.7],[27,9],[30,10],[33,12],[34,10]],[[36.5,14.3],[37,17.5],[38.5,18]],[[36.5,14.3],[34.5,11],[34,9],[33,8],[35,5]],
[[36.5,14.3],[39,14.6],[41,14.5],[42.5,12.6]],[[42.5,12.6],[41.8,11],[43,11]],[[43,11],[44,9],[47.9,8],[45,5],[42,4],[41,3.9]],
[[35,5],[41,3.9],[41,-1.6]],[[34,-1],[37.5,-3],[39.3,-4.7]],[[31,3.7],[34,4],[35,5]],[[34,4],[35,1.5],[34,-1]],[[29.6,-1.4],[30,-1],[34,-1]],[[31,3.7],[30,1],[29.6,-1.4]],
[[29.6,-1.4],[29,-3],[29.5,-4.5],[30.7,-8.2],[28.5,-9],[28.5,-12],[29.8,-13.4],[27,-11.8],[24,-11],[22,-11],[22,-9.5],[20,-7],[17.5,-8],[16,-6],[13,-5.8]],
[[12,-5],[14,-4.5],[16,-3.5],[17.8,-.5],[18,3.5]],[[14,1.5],[14.5,2.2],[16,1.8]],[[9.8,2.3],[11.3,2.2],[13.3,2.2],[14,1.4],[14.5,-2],[12,-2.5],[11,-4]],[[11.3,2.2],[11.3,1],[9.8,1]],
[[22,-11],[24,-11],[24,-13],[22,-13],[22,-16],[23.4,-17.6],[20,-18]],[[11.8,-17.2],[14,-17.4],[18.5,-17.4],[23.4,-17.6]],[[21,-18.3],[21,-22]],
[[25.2,-17.8],[28,-16.5],[30.4,-15.6]],[[30.4,-15.6],[33,-14],[33.2,-11]],[[33,-14],[34.5,-14.5],[35.5,-15],[35,-17]],[[34.8,-11.5],[37,-11.6],[40.5,-10.5]],
[[30.4,-15.6],[33,-17],[32.5,-20],[31.5,-22]],[[30.7,-8.2],[33,-9.5],[33.2,-11]],[[0,11],[3,11.7]],[[0,15],[1,15],[2,12.5],[3.7,11.7]],[[1,6],[1,11]],
[[43,16.8],[47,17],[52,19],[55,20]],[[52,19],[53,16.7]],[[98,20.5],[98.5,17],[98,15],[99.5,11]],[[101,20],[101,17.5],[105,15.5]],[[102.5,12],[103,14],[105,14.3],[107.5,13],[106,11]],
[[104,19.5],[107,16],[107.5,14.5]],[[100.2,6.5],[102,6.2]],[[109.5,1.5],[112,1.3],[115,2.5],[116,4],[117.5,4.2]],[[141,-2.6],[141,-9.1]],[[92,20.5],[92.5,21]]];

/* ---------- panel geometry and axis functions ---------- */
const SVGNS = 'http://www.w3.org/2000/svg';
const panelW = 633.5, panelH = 141;
const colLeft = [102, 845];
const rowTop = [39, 264, 489, 714];
function panelBox(i){ return {x: colLeft[i < 4 ? 0 : 1], y: rowTop[i % 4]}; }
function xAxis(box, lon){ return box.x + lon / 180 * panelW; }
function yAxis(box, lat){ return box.y + (20 - lat) / 40 * panelH; }
function svgEl(tag, attrs){
  const e = document.createElementNS(SVGNS, tag);
  for (const k in attrs) e.setAttribute(k, attrs[k]);
  return e;
}

/* Catmull-Rom surface through the gridded values */
function cr(a, b, c, d, t){
  return .5 * (2*b + (c-a)*t + (2*a-5*b+4*c-d)*t*t + (3*b-a-3*c+d)*t*t*t);
}
function sampleField(grid, lon, lat, peaks){
  const fx = Math.min(lon / 10, 17.9999), fy = Math.min((20 - lat) / 5, 7.9999);
  const ix = Math.floor(fx), iy = Math.floor(fy), tx = fx - ix, ty = fy - iy;
  const rows = [];
  for (let j = -1; j <= 2; j++){
    const r = grid[Math.max(0, Math.min(8, iy + j))];
    rows.push(cr(r[Math.max(0, ix-1)], r[ix], r[ix+1], r[Math.min(18, ix+2)], tx));
  }
  let v = cr(rows[0], rows[1], rows[2], rows[3], ty);
  for (const p of peaks){
    const dx = (lon - p[0]) / p[3], dy = (lat - p[1]) / p[4];
    v += p[2] * Math.exp(-(dx*dx + dy*dy));
  }
  return v;
}
function bandOf(v){
  let b = 0;
  while (b < bandEdges.length && v >= bandEdges[b]) b++;
  return b;
}
function smoothPath(box, pts, closed){
  const p = pts.map(q => [xAxis(box, q[0]), yAxis(box, q[1])]);
  const n = p.length;
  const at = i => closed ? p[(i + n) % n] : p[Math.max(0, Math.min(n - 1, i))];
  let d = 'M' + p[0][0].toFixed(1) + ' ' + p[0][1].toFixed(1);
  const last = closed ? n : n - 1;
  for (let i = 0; i < last; i++){
    const a = at(i-1), b = at(i), c = at(i+1), e = at(i+2);
    d += 'C' + (b[0]+(c[0]-a[0])/6).toFixed(1) + ' ' + (b[1]+(c[1]-a[1])/6).toFixed(1) + ' '
         + (c[0]-(e[0]-b[0])/6).toFixed(1) + ' ' + (c[1]-(e[1]-b[1])/6).toFixed(1) + ' '
         + c[0].toFixed(1) + ' ' + c[1].toFixed(1);
  }
  return d + (closed ? 'Z' : '');
}
function linePath(box, pts){
  return pts.map((q, i) => (i ? 'L' : 'M') + xAxis(box, q[0]).toFixed(1) + ' ' + yAxis(box, q[1]).toFixed(1)).join('');
}

const panelsRoot = document.getElementById('panels');
panelTitles.forEach((title, i) => {
  const box = panelBox(i);
  const group = svgEl('g', {});
  
  
  panelsRoot.appendChild(group);

  const clip = svgEl('clipPath', {id: 'clip-' + i});
  clip.appendChild(svgEl('rect', {x: box.x, y: box.y, width: panelW, height: panelH}));
  group.appendChild(clip);

  /* filled contour bands, one path per colour */
  const fieldGroup = svgEl('g', {'clip-path': 'url(#clip-' + i + ')', 'shape-rendering': 'crispEdges'});
  
  
  group.appendChild(fieldGroup);
  const bandPaths = colorBands.map(() => []);
  const cols = Math.ceil(panelW), rows = panelH;
  for (let r = 0; r < rows; r++){
    const lat = 20 - (r + .5) / panelH * 40;
    let runStart = 0, runBand = -1;
    for (let c = 0; c <= cols; c++){
      const b = c === cols ? -2 : bandOf(sampleField(psiFields[i], Math.min(180, (c + .5) / panelW * 180), lat, fieldExtrema[i]));
      if (b !== runBand){
        if (runBand >= 0) bandPaths[runBand].push('M' + (box.x + runStart) + ' ' + (box.y + r) + 'h' + (c - runStart) + 'v1h' + (runStart - c) + 'z');
        runStart = c; runBand = b;
      }
    }
  }
  bandPaths.forEach((segs, b) => {
    if (!segs.length) return;
    const band = svgEl('path', {d: segs.join(''), fill: colorBands[b]});
    
    
    fieldGroup.appendChild(band);
  });

  /* map outlines */
  const mapGroup = svgEl('g', {'clip-path': 'url(#clip-' + i + ')', fill: 'none', stroke: '#646464', 'stroke-width': 2, 'stroke-linejoin': 'round'});
  
  
  group.appendChild(mapGroup);
  const outline = svgEl('path', {d: coastlines.concat(borders).map(l => linePath(box, l)).join('')});
  
  
  mapGroup.appendChild(outline);

  /* equator */
  const eq = svgEl('line', {x1: box.x, x2: box.x + panelW, y1: yAxis(box, 0), y2: yAxis(box, 0), stroke: '#555555', 'stroke-width': 1.6, 'stroke-dasharray': '5 4'});
  
  
  group.appendChild(eq);

  /* wave contours */
  const waveGroup = svgEl('g', {'clip-path': 'url(#clip-' + i + ')', fill: 'none', 'stroke-width': 2});
  
  
  group.appendChild(waveGroup);
  waveContours[i].forEach(w => {
    const line = svgEl('path', {d: smoothPath(box, w[2], !!w[1]), stroke: waveColors[w[0]]});
    
    
    waveGroup.appendChild(line);
  });

  /* storm markers */
  stormMarkers.filter(s => s[0] === i).forEach(s => {
    const sx = xAxis(box, s[1]), sy = yAxis(box, s[2]);
    const g = svgEl('g', {});
    
    
    const arms = 'M' + (sx-5) + ' ' + (sy-1) + 'Q' + (sx-5) + ' ' + (sy-8) + ' ' + (sx+4) + ' ' + (sy-10) + 'Q' + (sx+1) + ' ' + (sy-7) + ' ' + (sx+5) + ' ' + (sy-2) + 'Z'
      + 'M' + (sx+5) + ' ' + (sy+1) + 'Q' + (sx+5) + ' ' + (sy+8) + ' ' + (sx-4) + ' ' + (sy+10) + 'Q' + (sx-1) + ' ' + (sy+7) + ' ' + (sx-5) + ' ' + (sy+2) + 'Z';
    g.appendChild(svgEl('path', {d: arms, fill: '#d40000', stroke: '#000', 'stroke-width': 1.5}));
    g.appendChild(svgEl('circle', {cx: sx, cy: sy, r: 5.6, fill: '#000'}));
    g.appendChild(svgEl('circle', {cx: sx, cy: sy, r: 4.8, fill: '#d40000'}));
    const t = svgEl('text', {x: sx, y: sy + 3, 'text-anchor': 'middle', 'font-size': 8, 'font-weight': 'bold', style: 'fill:#fff'});
    t.textContent = s[3];
    g.appendChild(t);
    group.appendChild(g);
  });

  /* frame + ticks */
  const axisGroup = svgEl('g', {stroke: '#000', fill: 'none'});
  
  
  group.appendChild(axisGroup);
  axisGroup.appendChild(svgEl('rect', {x: box.x, y: box.y, width: panelW, height: panelH, 'stroke-width': 2.6}));
  let major = '', minor = '';
  for (let lon = 0; lon <= 180; lon += 10){
    const x = xAxis(box, lon);
    if (lon % 60 === 0){
      major += 'M' + x + ' ' + (box.y - 5) + 'v5M' + x + ' ' + (box.y + panelH) + 'v6';
    } else {
      minor += 'M' + x + ' ' + (box.y + panelH) + 'v3.5';
    }
  }
  for (let lat = -20; lat <= 20; lat += 2){
    const y = yAxis(box, lat);
    if (lat % 10 === 0){
      major += 'M' + (box.x - 6) + ' ' + y + 'h6M' + (box.x + panelW) + ' ' + y + 'h6';
    } else {
      minor += 'M' + (box.x - 2.5) + ' ' + y + 'h2.5M' + (box.x + panelW) + ' ' + y + 'h2.5';
    }
  }
  axisGroup.appendChild(svgEl('path', {d: major, 'stroke-width': 2.4}));
  axisGroup.appendChild(svgEl('path', {d: minor, 'stroke-width': 1.3}));

  /* labels */
  const titleText = svgEl('text', {x: box.x - 2, y: box.y - 8, 'font-size': 34.5});
  titleText.textContent = title;
  
  
  group.appendChild(titleText);

  if (i < 4){
    latTicks.forEach(t => {
      const lab = svgEl('text', {x: box.x - 28, y: yAxis(box, t[0]) + 12, 'font-size': 34, 'text-anchor': 'end'});
      lab.textContent = t[1];
      
      
      group.appendChild(lab);
    });
  }
  if (i % 4 === 3){
    lonTicks.forEach(t => {
      const lab = svgEl('text', {x: xAxis(box, t[0]), y: 910, 'font-size': 34, 'text-anchor': 'middle'});
      lab.textContent = t[1];
      
      
      group.appendChild(lab);
    });
  }
  if (i % 4 === 0){
    const tag = svgEl('text', {x: box.x + panelW + 1, y: box.y - 8, 'font-size': 34.7, 'text-anchor': 'end'});
    tag.textContent = i === 0 ? 'Observed' : 'CFS Forecast';
    
    
    group.appendChild(tag);
  }
});

/* ---------- colour bar ---------- */
const cbRoot = document.getElementById('colorbar');
const cbLeft = 229, cbTop = 972, cbCell = 604 / colorBands.length, cbH = 22.5;
colorBands.forEach((c, k) => {
  const cell = svgEl('rect', {x: cbLeft + k * cbCell, y: cbTop, width: cbCell, height: cbH, fill: c, stroke: '#111', 'stroke-width': 1.5});
  
  
  cbRoot.appendChild(cell);
});
bandEdges.forEach((v, k) => {
  const lab = svgEl('text', {x: cbLeft + (k + 1) * cbCell, y: 1023, 'font-size': 30, 'text-anchor': 'middle'});
  lab.textContent = String(v);
  
  
  cbRoot.appendChild(lab);
});
</script>
</body>
</html>
